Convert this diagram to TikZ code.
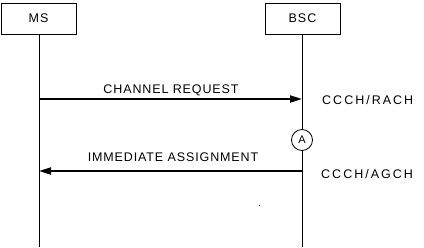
\documentclass[tikz,border=0pt]{standalone}
\usepackage{fontspec}
\setmainfont{Liberation Sans}
\usetikzlibrary{arrows.meta}
\begin{document}
\begin{tikzpicture}[x=1pt,y=-1pt,
  entity/.style={draw,line width=0.8pt,minimum width=75pt,minimum height=31pt,inner sep=0pt,
    font=\fontsize{12.5}{14}\selectfont\addfontfeature{LetterSpace=8}},
  lifeline/.style={line width=0.8pt},
  msg/.style={line width=2pt,-{Triangle[length=12pt,width=7pt]}},
  msglabel/.style={font=\fontsize{12.5}{14}\selectfont\addfontfeature{LetterSpace=7},inner sep=0pt},
  chanlabel/.style={font=\fontsize{12.5}{14}\selectfont\addfontfeature{LetterSpace=16},inner sep=0pt,anchor=west},
  marker/.style={draw,circle,line width=0.8pt,minimum size=21pt,inner sep=0pt,
    font=\fontsize{11}{12}\selectfont}]
  \useasboundingbox (0,0) rectangle (424,247);
  % entities
  \node[entity] (ms) at (38.5,18.5) {MS};
  \node[entity] (bsc) at (302.5,18.5) {BSC};
  % lifeline ends
  \coordinate (msend) at (39,247);
  \coordinate (bscend) at (302,247);
  % marker A on the BSC lifeline
  \node[marker] (a) at (302,140) {A};
  % lifelines
  \draw[lifeline] (ms.south -| msend) -- (msend);
  \draw[lifeline] (bsc.south -| bscend) -- (a.north);
  \draw[lifeline] (a.south) -- (bscend);
  % message end points on the lifelines
  \coordinate (req0) at (39,99);
  \coordinate (req1) at (302,99);
  \coordinate (ass0) at (302,171);
  \coordinate (ass1) at (39,171);
  \draw[msg] (req0) -- (req1);
  \draw[msg] (ass0) -- (ass1);
  % message labels
  \node[msglabel] (reqlabel) at (171,90) {CHANNEL REQUEST};
  \node[msglabel] (asslabel) at (173,157) {IMMEDIATE ASSIGNMENT};
  % channel labels
  \node[chanlabel] (rach) at (322,100) {CCCH/RACH};
  \node[chanlabel] (agch) at (321,174) {CCCH/AGCH};
  % small dot
  \fill (258.5,204.5) rectangle (259.5,205.5);
\end{tikzpicture}
\end{document}
